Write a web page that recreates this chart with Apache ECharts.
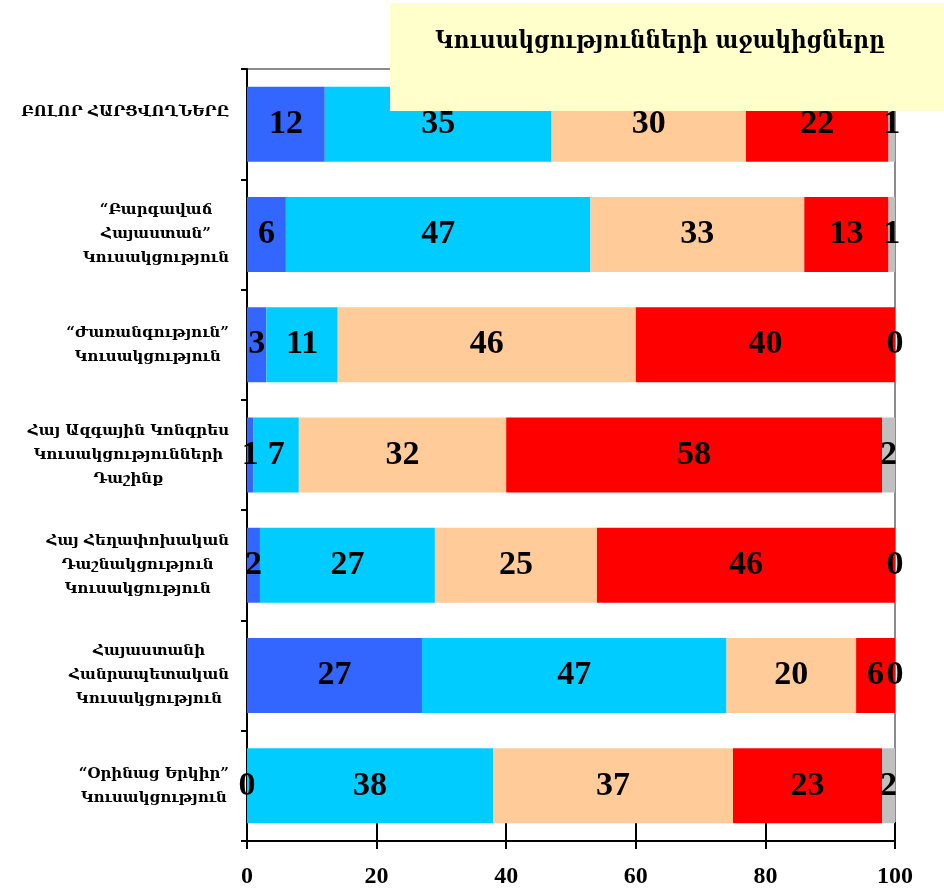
<!DOCTYPE html>
<html>
<head>
<meta charset="utf-8">
<script src="https://cdn.jsdelivr.net/npm/echarts@6/dist/echarts.min.js"></script>
<style>
  html, body { margin: 0; padding: 0; background: #fff; }
  #chart { width: 944px; height: 889px; }
</style>
</head>
<body>
<div id="chart"></div>
<script>
  var chart = echarts.init(document.getElementById('chart'))

  // կատեգորիաներ՝ վերևից ներքև
  var categories = [
    'ԲՈԼՈՐ ՀԱՐՑՎՈՂՆԵՐԸ',
    '“Բարգավաճ\nՀայաստան”\nԿուսակցություն',
    '“Ժառանգություն”\nԿուսակցություն',
    'Հայ Ազգային Կոնգրես\nԿուսակցությունների\nԴաշինք',
    'Հայ Հեղափոխական\nԴաշնակցություն\nԿուսակցություն',
    'Հայաստանի\nՀանրապետական\nԿուսակցություն',
    '“Օրինաց Երկիր”\nԿուսակցություն'
  ]

  // 5 խումբ, ամեն մեկը մեկ գույնով
  var blueData = [12, 6, 3, 1, 2, 27, 0]
  var cyanData = [35, 47, 11, 7, 27, 47, 38]
  var peachData = [30, 33, 46, 32, 25, 20, 37]
  var redData = [22, 13, 40, 58, 46, 6, 23]
  var greyData = [1, 1, 0, 2, 0, 0, 2]

  var xTicks = [0, 20, 40, 60, 80, 100]

  var titleText = 'Կուսակցությունների աջակիցները'

  function barSeries(name, data, color) {
    return {
      name: name,
      type: 'bar',
      stack: 'all',
      data: data,
      barWidth: 75,
      itemStyle: { color: color },
      label: {
        show: true,
        position: 'inside',
        color: '#000',
        fontFamily: 'Liberation Serif',
        fontWeight: 'bold',
        fontSize: 34
      }
    }
  }

  var option = {
    animation: false,
    grid: {
      left: 247,
      right: 49,
      top: 69,
      bottom: 47,
      show: true,
      borderColor: '#8c8c8c',
      borderWidth: 2,
      backgroundColor: 'transparent'
    },
    xAxis: [
      {
        type: 'value',
        min: xTicks[0],
        max: xTicks[xTicks.length - 1],
        interval: 20,
        splitLine: { show: false },
        axisLine: { show: true, lineStyle: { color: '#000', width: 2 } },
        axisTick: { show: true, inside: false, length: 8, lineStyle: { color: '#000', width: 2 } },
        axisLabel: {
          margin: 24,
          color: '#000',
          fontFamily: 'Liberation Serif',
          fontWeight: 'bold',
          fontSize: 24
        }
      },
      {
        // ticks that go up inside the plot
        type: 'value',
        position: 'bottom',
        min: xTicks[0],
        max: xTicks[xTicks.length - 1],
        interval: 20,
        splitLine: { show: false },
        axisLine: { show: false },
        axisTick: { show: true, inside: true, length: 19, lineStyle: { color: '#000', width: 2 } },
        axisLabel: { show: false }
      }
    ],
    yAxis: {
      type: 'category',
      inverse: true,
      data: categories,
      axisLine: { show: true, lineStyle: { color: '#000', width: 2 } },
      axisTick: { show: true, length: 6, lineStyle: { color: '#000', width: 2 } },
      axisLabel: {
        margin: 18,
        align: 'right',
        formatter: function(v, i) {
          var s = v.split('\n').map(function(l) { return '{c|' + l + '}' }).join('\n')
          // first row sits a bit above the bar centre
          if (i === 0) s += '\n{c| }'
          return s
        },
        rich: {
          c: {
            align: 'center',
            color: '#000',
            fontFamily: 'DejaVu Serif',
            fontWeight: 'bold',
            fontSize: 15,
            lineHeight: 24
          }
        }
      }
    },
    series: [
      barSeries('s1', blueData, '#3366FF'),
      barSeries('s2', cyanData, '#00CCFF'),
      barSeries('s3', peachData, '#FFCC99'),
      barSeries('s4', redData, '#FF0000'),
      barSeries('s5', greyData, '#C0C0C0')
    ],
    graphic: [
      {
        type: 'rect',
        z: 100,
        shape: { x: 390, y: 3, width: 560, height: 108 },
        style: { fill: '#FFFFCC' }
      },
      {
        type: 'text',
        z: 101,
        x: 660,
        y: 42,
        style: {
          text: titleText,
          align: 'center',
          verticalAlign: 'middle',
          fill: '#000',
          fontFamily: 'DejaVu Serif Condensed, DejaVu Serif',
          fontWeight: 'bold',
          fontSize: 24
        }
      }
    ]
  }

  chart.setOption(option)
</script>
</body>
</html>
